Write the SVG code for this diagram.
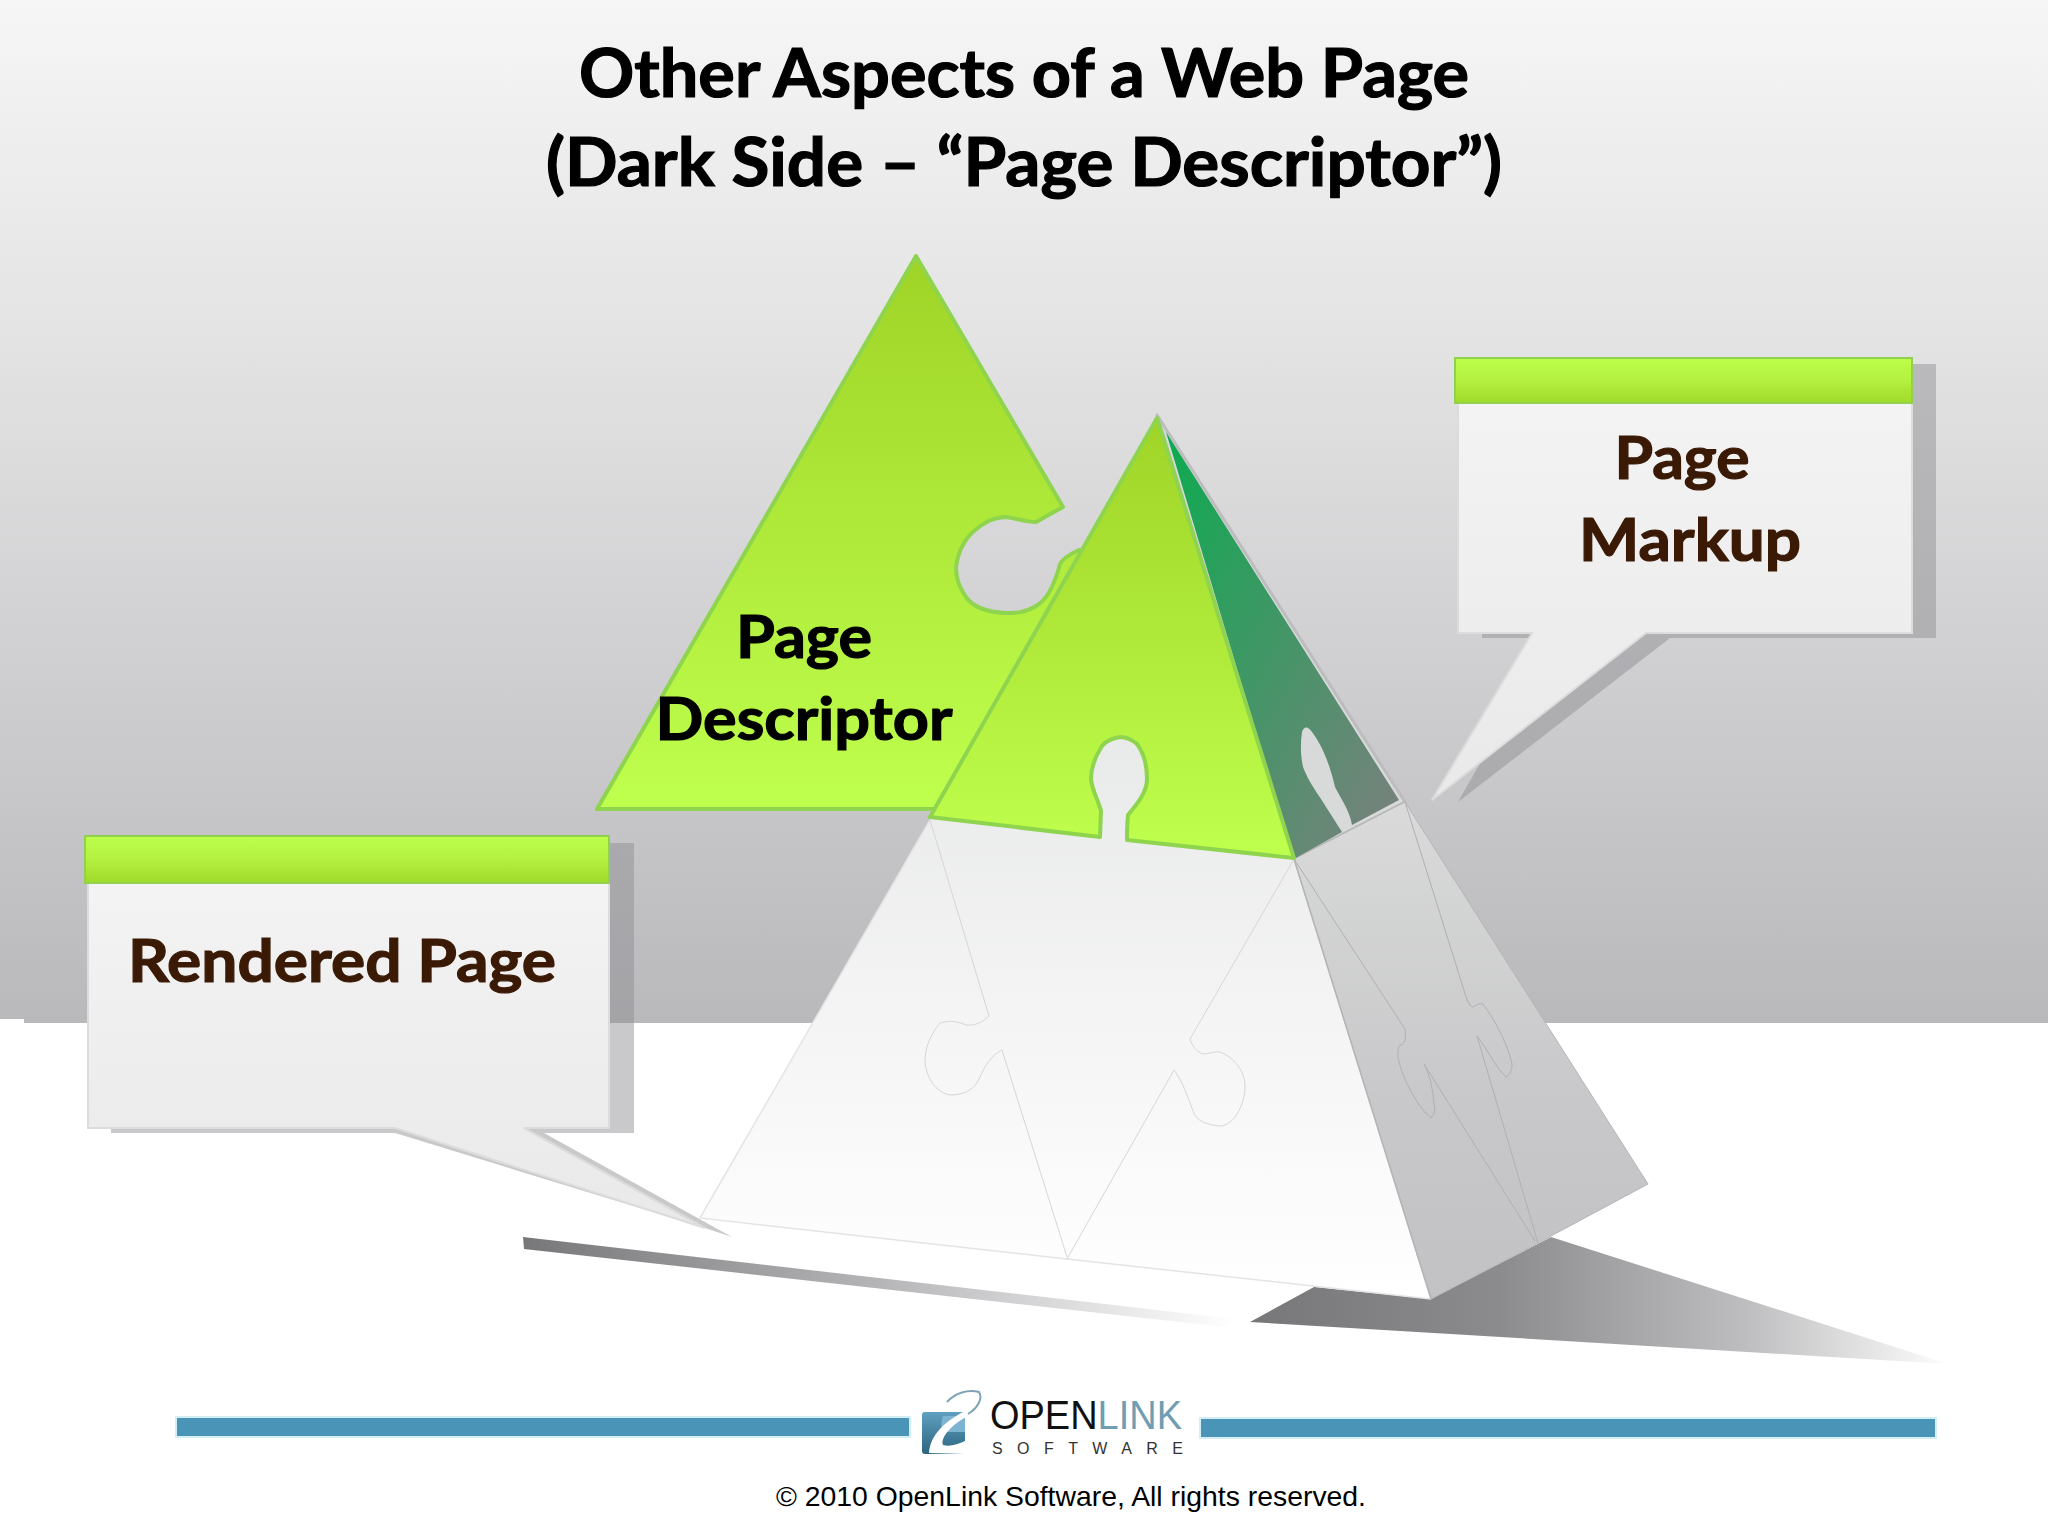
<svg xmlns="http://www.w3.org/2000/svg" width="2048" height="1536" viewBox="0 0 2048 1536">
<defs>
<linearGradient id="bg" x1="0" y1="0" x2="0" y2="1"><stop offset="0" stop-color="#f6f6f6"/><stop offset="0.35" stop-color="#e2e2e3"/><stop offset="1" stop-color="#b9b9bc"/></linearGradient>
<linearGradient id="lime" x1="0" y1="0" x2="0" y2="1"><stop offset="0" stop-color="#9fd427"/><stop offset="1" stop-color="#bfff4d"/></linearGradient>
<linearGradient id="head" x1="0" y1="0" x2="0" y2="1"><stop offset="0" stop-color="#bdff4b"/><stop offset="0.5" stop-color="#b4f040"/><stop offset="1" stop-color="#a0da2b"/></linearGradient>
<linearGradient id="dark" x1="0" y1="0" x2="1" y2="1"><stop offset="0" stop-color="#0cab50"/><stop offset="1" stop-color="#7d7f7f"/></linearGradient>
<linearGradient id="front" x1="0" y1="0" x2="0" y2="1"><stop offset="0" stop-color="#dcdddd"/><stop offset="1" stop-color="#ffffff"/></linearGradient>
<linearGradient id="side" x1="0" y1="0" x2="0" y2="1"><stop offset="0" stop-color="#d9dad9"/><stop offset="0.6" stop-color="#c8c8ca"/><stop offset="1" stop-color="#c2c2c4"/></linearGradient>
<linearGradient id="body" x1="0" y1="0" x2="0" y2="1"><stop offset="0" stop-color="#f3f3f4"/><stop offset="1" stop-color="#e9e9ea"/></linearGradient>
<linearGradient id="shadow" gradientUnits="userSpaceOnUse" x1="1250" y1="0" x2="1955" y2="0"><stop offset="0" stop-color="#77777a"/><stop offset="0.35" stop-color="#8b8b8e"/><stop offset="0.7" stop-color="#bdbdbf"/><stop offset="1" stop-color="#ffffff"/></linearGradient>
<linearGradient id="thin" gradientUnits="userSpaceOnUse" x1="523" y1="0" x2="1235" y2="0"><stop offset="0" stop-color="#77777a"/><stop offset="0.5" stop-color="#b5b5b8"/><stop offset="1" stop-color="#ffffff"/></linearGradient>
<linearGradient id="icon" x1="0" y1="0" x2="0" y2="1"><stop offset="0" stop-color="#5f9fc0"/><stop offset="1" stop-color="#2c6680"/></linearGradient>
</defs>
<style>
.ttl{font-family:"Lato","Carlito","Open Sans",sans-serif;font-weight:700}
.title{font-size:66px;fill:#000;stroke:#000;stroke-width:1.2}
.lbl{font-size:60px;stroke-width:1.2}
.br{fill:#3a1a05;stroke:#3a1a05}
.blk{fill:#000;stroke:#000}
.shd{fill:#8c8c90;fill-opacity:.47}
.lime{fill:url(#head);stroke:#92d04f;stroke-width:2}
.bdy{fill:url(#body);stroke:#dcdcdc;stroke-width:2}
.seam{fill:none;stroke:#d6d6d8;stroke-width:1}
.seam2{fill:none;stroke:#b0b0b3;stroke-width:1}
.pz{stroke:#8fd44f;stroke-width:4;stroke-linejoin:round;fill:url(#lime)}
.bar{fill:#4a94b8;stroke:#d4eef5;stroke-width:2}
.logo{font-family:"Liberation Sans Narrow","Liberation Sans",sans-serif}
</style>

<g id="background">
<rect x="0" y="0" width="2048" height="1536" fill="#fff"/>
<rect x="0" y="0" width="2048" height="1023" fill="url(#bg)"/>
<rect x="0" y="1019" width="24" height="4" fill="#fff"/>
</g>

<g id="title">
<text class="ttl title" x="1024" y="97" text-anchor="middle" textLength="890" lengthAdjust="spacingAndGlyphs">Other Aspects of a Web Page</text>
<text class="ttl title" x="1024" y="186" text-anchor="middle" textLength="956" lengthAdjust="spacingAndGlyphs">(Dark Side – “Page Descriptor”)</text>
</g>

<g id="ground-shadows">
<path d="M1250 1322L1314 1287L1431 1299L1551 1237L1948 1364Z" fill="url(#shadow)"/>
<path d="M523 1237L524 1249L1226 1327L1235 1319Z" fill="url(#thin)"/>
</g>

<g id="page-descriptor">
<path class="pz" d="M916 256L597 809L960 809L1085 552L1079 550C1066 556 1059 562 1059 568C1052 590 1046 600 1036 606C1025 613 1015 613 1005 613C985 612 973 607 966 597C958 585 956 577 956 567C958 552 964 540 974 531C985 522 992 518 1005 517C1016 518 1024 522 1036 522L1063 507Z"/>
<text class="ttl lbl blk" x="804" y="658" text-anchor="middle" textLength="136" lengthAdjust="spacingAndGlyphs">Page</text>
<text class="ttl lbl blk" x="804" y="740" text-anchor="middle" textLength="297" lengthAdjust="spacingAndGlyphs">Descriptor</text>
</g>

<g id="pyramid">
<path d="M930 820L1157 415L1294 859L1431 1299L1067 1259L700 1218Z" fill="url(#front)"/>
<path d="M1294 859L1157 415L1405 802Z" fill="#d8dada" stroke="#bdbdbf" stroke-width="3" stroke-linejoin="round"/>
<path d="M1294 859L1405 802L1648 1184L1538 1243L1431 1299Z" fill="url(#side)" stroke="#b5b5b8" stroke-width="1"/>
<path d="M930 820L700 1218L1067 1259L1431 1299" fill="none" stroke="#e4e4e6" stroke-width="1.5"/>
<path d="M1294 859L1431 1299" fill="none" stroke="#b5b5b8" stroke-width="1.5"/>
<path class="seam" d="M930 820L989 1016C983 1022 975 1026 966 1025C955 1020 947 1021 940 1023C930 1035 925 1048 925 1061C926 1078 937 1095 953 1095C967 1094 975 1088 979 1079C985 1065 992 1055 1002 1050L1067 1257"/>
<path class="seam" d="M1294 859L1190 1039C1192 1046 1197 1052 1203 1054C1209 1054 1214 1051 1220 1052C1235 1058 1245 1072 1245 1086C1245 1106 1233 1126 1220 1126C1207 1125 1196 1121 1193 1111C1187 1095 1182 1080 1174 1070L1067 1259"/>
<path class="seam2" d="M1294 859L1405 1029C1406 1036 1406 1041 1402 1045C1398 1044 1398 1050 1398 1057C1402 1080 1420 1110 1431 1118C1436 1112 1435 1108 1434 1104C1433 1090 1430 1075 1424 1064L1535 1241"/>
<path class="seam2" d="M1405 802L1467 1000C1469 1004 1471 1007 1473 1007C1476 1005 1480 1003 1483 1004C1495 1020 1508 1045 1512 1064C1512 1070 1510 1075 1506 1077C1496 1068 1488 1050 1477 1036L1538 1243"/>
<path d="M1294 859L1166 432L1399 800L1352 825C1350 812 1343 802 1335 787C1330 765 1322 745 1312 732C1308 726 1304 726 1302 732C1300 745 1301 757 1303 767C1308 780 1315 790 1321 799L1342 832Z" fill="url(#dark)"/>
<path class="pz" d="M930 817L1157 418L1294 858L1127 840C1127 830 1127 824 1128 815C1136 805 1147 793 1147 779C1147 765 1143 752 1137 744C1130 738 1125 737 1120 737C1113 738 1106 741 1102 746C1095 757 1091 768 1091 779C1092 790 1098 800 1101 811L1100 837Z"/>
</g>

<g id="rendered-page">
<path class="shd" d="M111 843H634V1133H544L732 1237L705 1228L395 1133H111Z"/>
<path class="bdy" d="M88 883H609V1128H524L705 1228L395 1128H88Z"/>
<rect class="lime" x="85" y="836" width="524" height="47"/>
<text class="ttl lbl br" x="342" y="982" text-anchor="middle" textLength="428" lengthAdjust="spacingAndGlyphs">Rendered Page</text>
</g>

<g id="page-markup">
<path class="shd" d="M1482 364H1936V638H1670L1458 802L1483 758L1540 638H1482Z"/>
<path class="bdy" d="M1458 403H1912V633H1646L1432 800L1532 633H1458Z"/>
<rect class="lime" x="1455" y="358" width="457" height="45"/>
<text class="ttl lbl br" x="1682" y="479" text-anchor="middle" textLength="135" lengthAdjust="spacingAndGlyphs">Page</text>
<text class="ttl lbl br" x="1690" y="561" text-anchor="middle" textLength="222" lengthAdjust="spacingAndGlyphs">Markup</text>
</g>

<g id="footer">
<rect class="bar" x="176" y="1417" width="734" height="20"/>
<rect class="bar" x="1200" y="1418" width="736" height="20"/>
<g id="logo">
<rect x="922" y="1412" width="43" height="42" rx="3" fill="url(#icon)"/>
<path d="M943 1416H965V1432H948C942 1432 939 1428 943 1416Z" fill="#7db4d2"/>
<path d="M929 1453C930 1435 946 1420 967 1410L966 1417C953 1424 940 1437 943 1445C950 1447 958 1444 965 1441V1454Z" fill="#fff"/>
<path d="M947 1402C955 1393 968 1389 979 1392C983 1398 978 1408 968 1414" fill="none" stroke="#7ea3b4" stroke-width="2"/>
<text class="logo" x="990" y="1429" font-size="40" fill="#111" textLength="192" lengthAdjust="spacingAndGlyphs">OPEN<tspan fill="#6f9db3">LINK</tspan></text>
<text class="logo" x="992" y="1454" font-size="16" fill="#333" textLength="191">SOFTWARE</text>
</g>
<text id="copyright" x="776" y="1506" font-family="'Liberation Sans',Arial,sans-serif" font-size="28" fill="#000" textLength="590" lengthAdjust="spacingAndGlyphs">© 2010 OpenLink Software, All rights reserved.</text>
</g>
</svg>
